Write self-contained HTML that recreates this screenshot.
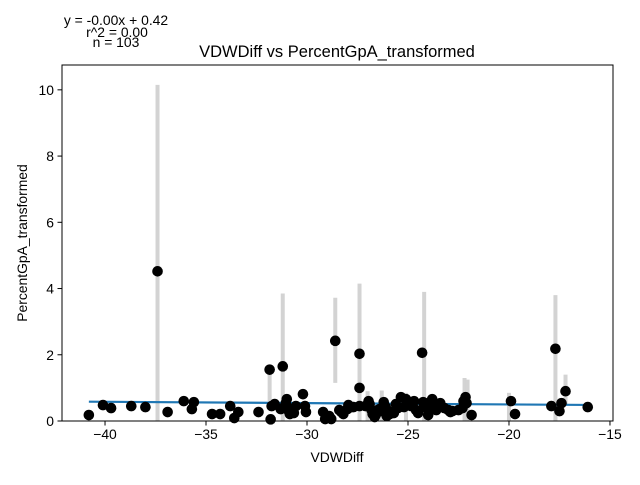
<!DOCTYPE html>
<html><head><meta charset="utf-8"><style>
body{margin:0;background:#fff}
svg text{font-family:"Liberation Sans","DejaVu Sans",sans-serif;fill:#000}
</style></head><body>
<svg width="640" height="480" id="c" xmlns="http://www.w3.org/2000/svg">
<rect width="640" height="480" fill="#fff"/>
<g id="plot"></g>
<text x="337" y="57" font-size="16.5" text-anchor="middle">VDWDiff vs PercentGpA_transformed</text>
<text x="337" y="462" font-size="13.9" text-anchor="middle">VDWDiff</text>
<text transform="translate(27,243) rotate(-90)" font-size="13.9" text-anchor="middle">PercentGpA_transformed</text>
<text x="116" y="25" font-size="13.9" text-anchor="middle">y = -0.00x + 0.42</text>
<text x="117" y="37" font-size="13.9" text-anchor="middle">r^2 = 0.00</text>
<text x="116" y="47" font-size="13.9" text-anchor="middle">n = 103</text>
</svg>
<script>
const xs=[-40.8,-40.1,-39.7,-38.7,-38.0,-37.4,-36.9,-36.1,-35.7,-35.6,-34.7,-34.3,-33.8,-33.6,-33.4,-32.4,-31.85,-31.8,-31.75,-31.6,-31.2,-31.1,-31.0,-30.85,-30.75,-30.65,-30.55,-30.2,-30.1,-30.05,-29.2,-29.1,-28.8,-28.6,-28.4,-28.2,-28.0,-27.8,-27.7,-27.4,-27.4,-27.4,-27.1,-26.9,-26.8,-26.75,-26.65,-26.6,-26.5,-26.4,-26.2,-26.2,-26.1,-25.9,-25.8,-25.7,-25.5,-25.35,-25.1,-24.85,-24.6,-24.3,-24.25,-24.2,-24.05,-23.9,-23.8,-23.7,-23.6,-23.0,-22.8,-22.5,-22.3,-22.25,-22.15,-22.1,-21.85,-19.9,-19.7,-17.9,-17.7,-17.5,-17.4,-17.2,-16.1,-28.9,-26.3,-25.2,-24.0,-30.9,-31.3,-26.95,-24.5,-23.2,-28.3,-27.95,-31.05,-25.6,-23.4,-26.05,-22.9,-29.0,-24.7];
const ys=[0.18,0.48,0.39,0.45,0.42,4.52,0.27,0.6,0.36,0.57,0.21,0.21,0.45,0.09,0.27,0.27,1.55,0.05,0.45,0.51,1.65,0.45,0.66,0.21,0.36,0.24,0.45,0.81,0.45,0.27,0.27,0.06,0.06,2.42,0.33,0.21,0.36,0.42,0.42,2.03,1.0,0.45,0.45,0.51,0.33,0.21,0.12,0.18,0.33,0.36,0.42,0.57,0.42,0.21,0.27,0.24,0.39,0.72,0.66,0.45,0.33,2.06,0.57,0.42,0.39,0.57,0.66,0.45,0.33,0.33,0.30,0.33,0.39,0.6,0.72,0.54,0.18,0.6,0.21,0.45,2.18,0.3,0.54,0.9,0.42,0.15,0.3,0.42,0.18,0.3,0.36,0.6,0.24,0.39,0.27,0.48,0.54,0.51,0.54,0.15,0.27,0.12,0.6];
const errX=[-37.4,-31.2,-28.6,-27.4,-24.2,-17.7,-31.85,-22.2,-22.05,-17.2,-20.0,-26.3,-25.1,-27.0];
const errLo=[0,0,1.15,0,0,0,0.6,0,0,0.5,0,0,0,0];
const errHi=[10.15,3.85,3.72,4.15,3.9,3.8,1.6,1.3,1.25,1.4,0.85,0.92,0.85,0.9];
const slope=[-0.004],intercept=[0.42];
const xTicks=[-40,-35,-30,-25,-20,-15],yTicks=[0,2,4,6,8,10];
const L=62,R=613,T=65,B=421,x0=-42.13,x1=-14.85,y0=0,y1=10.75;
const X=v=>L+(v-x0)/(x1-x0)*(R-L),Y=v=>B-(v-y0)/(y1-y0)*(B-T);
const g=document.getElementById('plot'),NS='http://www.w3.org/2000/svg';
function mk(t,a){const e=document.createElementNS(NS,t);for(const k in a)e.setAttribute(k,a[k]);g.appendChild(e);return e;}
errX.forEach((v,i)=>{const e=mk('line',{x1:X(v),x2:X(v),y1:Y(errLo[i]),y2:Y(errHi[i]),stroke:'#d3d3d3','stroke-width':4});

});
const xmn=Math.min(...xs),xmx=Math.max(...xs);
const ln=mk('line',{x1:X(xmn),x2:X(xmx),y1:Y(intercept[0]+slope[0]*xmn),y2:Y(intercept[0]+slope[0]*xmx),stroke:'#1f77b4','stroke-width':2.2});


xs.forEach((v,i)=>{const c=mk('circle',{cx:X(v),cy:Y(ys[i]),r:5.3,fill:'#000'});

});
const fr=mk('rect',{x:L,y:T,width:R-L,height:B-T,fill:'none',stroke:'#000','stroke-width':1});


xTicks.forEach(t=>{const px=X(t);mk('line',{x1:px,x2:px,y1:B,y2:B+4.5,stroke:'#000'});
const tx=mk('text',{x:px,y:B+18,'font-size':13.9,'text-anchor':'middle'});tx.textContent=String(t).replace('-','\u2212');

});
yTicks.forEach(t=>{const py=Y(t);mk('line',{x1:L-4.5,x2:L,y1:py,y2:py,stroke:'#000'});
const tx=mk('text',{x:L-8,y:py+5,'font-size':13.9,'text-anchor':'end'});tx.textContent=t;

});
</script>
</body></html>
